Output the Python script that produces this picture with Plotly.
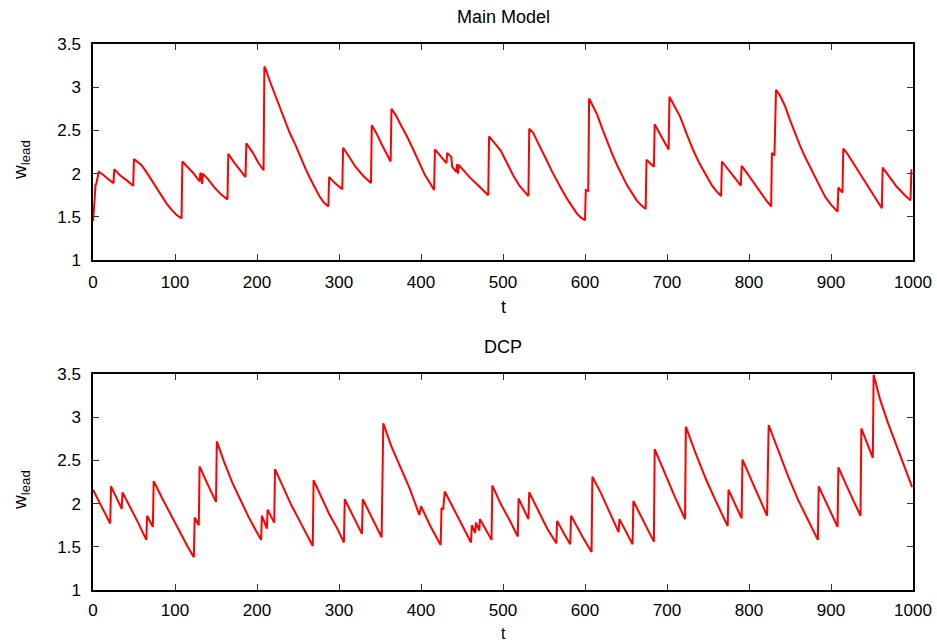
import plotly.graph_objects as go

# ---- Main Model (top panel) ----
t_main = [0, 1, 2, 3, 4, 7, 12, 18, 25, 26, 33, 40, 49, 50, 54, 59, 65, 71, 77, 84, 90, 96, 102, 108,
          109, 115, 122, 130, 131, 132, 133, 134, 140, 148, 156, 164, 165, 172, 180, 186, 187, 195, 202, 208,
          209, 211, 216, 222, 228, 234, 240, 247, 253, 259, 265, 271, 276, 281, 287, 288, 295, 304,
          305, 312, 320, 330, 339, 340, 346, 352, 358, 363, 364, 369, 376, 383, 391, 399, 405, 411, 416,
          417, 424, 431, 432, 437, 438, 441, 443, 444, 445, 446, 452, 460, 468, 476, 482,
          483, 490, 497, 505, 513, 520, 526, 531, 532, 537, 542, 548, 554, 560, 566, 572, 578, 584, 590, 595, 600,
          601, 604, 605, 609, 615, 621, 627, 633, 639, 645, 651, 657, 663, 669, 674, 675, 680, 684,
          685, 690, 696, 702, 703, 708, 716, 724, 732, 740, 748, 755, 760, 766, 767, 774, 782, 790,
          791, 798, 806, 814, 821, 827, 828, 831, 833, 838, 844, 850, 856, 862, 868, 874, 880, 887, 893, 900, 908,
          909, 914, 915, 920, 930, 940, 950, 957, 962, 963, 970, 980, 990, 997, 998, 999]
w_main = [1.45, 1.67, 1.70, 1.87, 1.88, 2.02, 1.99, 1.94, 1.89, 2.05, 1.98, 1.93, 1.86, 2.17, 2.14, 2.10, 2.02, 1.93, 1.83, 1.73, 1.65, 1.58, 1.52, 1.48,
          2.14, 2.08, 2.01, 1.91, 2.01, 1.99, 1.88, 2.00, 1.94, 1.84, 1.76, 1.70, 2.23, 2.13, 2.03, 1.96, 2.35, 2.24, 2.12, 2.04,
          3.24, 3.20, 3.06, 2.91, 2.75, 2.61, 2.47, 2.33, 2.19, 2.06, 1.94, 1.83, 1.74, 1.67, 1.62, 1.96, 1.89, 1.82,
          2.30, 2.20, 2.08, 1.97, 1.89, 2.56, 2.46, 2.34, 2.22, 2.14, 2.75, 2.68, 2.55, 2.43, 2.27, 2.10, 1.98, 1.89, 1.81,
          2.28, 2.20, 2.12, 2.24, 2.19, 2.08, 2.05, 2.02, 2.11, 2.00, 2.10, 2.03, 1.95, 1.88, 1.81, 1.75,
          2.43, 2.35, 2.27, 2.12, 1.97, 1.86, 1.79, 1.74, 2.52, 2.47, 2.37, 2.26, 2.14, 2.02, 1.91, 1.81, 1.71, 1.62, 1.54, 1.49, 1.46,
          1.81, 1.80, 2.87, 2.80, 2.68, 2.52, 2.37, 2.23, 2.10, 1.98, 1.87, 1.78, 1.69, 1.63, 1.59, 2.16, 2.11, 2.08,
          2.57, 2.49, 2.38, 2.28, 2.89, 2.80, 2.66, 2.46, 2.27, 2.11, 1.97, 1.86, 1.80, 1.74, 2.14, 2.06, 1.96, 1.86,
          2.09, 2.00, 1.89, 1.78, 1.69, 1.62, 2.24, 2.21, 2.97, 2.90, 2.78, 2.62, 2.47, 2.33, 2.20, 2.08, 1.96, 1.84, 1.73, 1.64, 1.56,
          1.84, 1.78, 2.29, 2.23, 2.08, 1.93, 1.78, 1.67, 1.60, 2.07, 1.98, 1.85, 1.75, 1.69, 2.04, 2.04]

# ---- DCP (bottom panel) ----
t_dcp = [0, 10, 21, 22, 28, 35, 36, 45, 55, 65, 66, 73, 74, 85, 95, 105, 115, 123, 124, 129, 130, 140, 150,
         151, 160, 170, 180, 190, 198, 205, 206, 212, 213, 221, 222, 232, 242, 252, 260, 268,
         269, 278, 288, 298, 306, 307, 317, 328, 329, 340, 352, 354, 364, 375, 386, 398, 400, 412, 424,
         425, 427, 429, 440, 451, 461, 462, 466, 467, 471, 472, 480, 486, 487, 497, 508, 518,
         519, 531, 532, 543, 554, 565, 566, 574, 582, 583, 590, 598, 608, 609, 619, 630, 641,
         642, 650, 658, 659, 670, 684, 685, 697, 710, 722, 723, 735, 748, 761, 774, 775, 783, 791,
         792, 802, 812, 822, 824, 836, 848, 860, 872, 884, 885, 897, 908, 909, 918, 927, 936,
         937, 944, 951, 952, 960, 970, 980, 990, 999]
w_dcp = [2.16, 1.97, 1.77, 2.20, 2.08, 1.94, 2.13, 1.97, 1.78, 1.58, 1.86, 1.73, 2.26, 2.05, 1.87, 1.68, 1.51, 1.38, 1.84, 1.75, 2.43, 2.22, 2.02,
         2.72, 2.48, 2.24, 2.03, 1.84, 1.70, 1.58, 1.86, 1.71, 1.93, 1.78, 2.40, 2.18, 1.98, 1.80, 1.65, 1.51,
         2.27, 2.08, 1.88, 1.71, 1.55, 2.05, 1.85, 1.65, 2.05, 1.83, 1.61, 2.93, 2.66, 2.42, 2.18, 1.87, 1.97, 1.73, 1.52,
         1.95, 1.93, 2.14, 1.94, 1.74, 1.55, 1.75, 1.66, 1.78, 1.69, 1.82, 1.69, 1.58, 2.21, 2.00, 1.81, 1.62,
         2.06, 1.82, 2.13, 1.91, 1.71, 1.54, 1.80, 1.66, 1.53, 1.86, 1.73, 1.60, 1.44, 2.31, 2.13, 1.91, 1.67,
         1.82, 1.67, 1.53, 2.03, 1.82, 1.56, 2.63, 2.36, 2.07, 1.82, 2.89, 2.58, 2.27, 2.00, 1.74, 2.16, 2.00, 1.83,
         2.51, 2.29, 2.07, 1.86, 2.91, 2.60, 2.31, 2.04, 1.80, 1.58, 2.20, 1.96, 1.73, 2.42, 2.22, 2.04, 1.86,
         2.87, 2.70, 2.53, 3.49, 3.20, 2.92, 2.66, 2.41, 2.19]

panel_titles = ["Main Model", "DCP"]
x_ticks = [0, 100, 200, 300, 400, 500, 600, 700, 800, 900, 1000]
y_ticks = [1, 1.5, 2, 2.5, 3, 3.5]

FONT = "Liberation Sans, Arial, sans-serif"

fig = go.Figure()
fig.add_trace(go.Scatter(x=t_main, y=w_main, mode="lines", line=dict(color="#ff0000", width=2),
                         xaxis="x", yaxis="y", showlegend=False, hoverinfo="skip"))
fig.add_trace(go.Scatter(x=t_dcp, y=w_dcp, mode="lines", line=dict(color="#ff0000", width=2),
                         xaxis="x2", yaxis="y2", showlegend=False, hoverinfo="skip"))

axis_common = dict(showline=True, linecolor="black", linewidth=1.5, mirror="allticks",
                   ticks="inside", ticklen=6, tickcolor="#333333", tickwidth=1.2,
                   showgrid=False, zeroline=False, automargin=False,
                   tickfont=dict(family=FONT, size=17, color="black"))

top_dom = [1 - 216 / 546, 1]
bot_dom = [0, 216 / 546]

fig.update_layout(
    width=937, height=643,
    margin=dict(l=93, r=24, t=44, b=53, autoexpand=False),
    plot_bgcolor="white", paper_bgcolor="white",
    font=dict(family=FONT, size=17, color="black"),
    xaxis=dict(domain=[0, 1], anchor="y", range=[0, 1000], tickvals=x_ticks, ticklabelstandoff=6, **axis_common),
    yaxis=dict(domain=top_dom, anchor="x", range=[1, 3.5], tickvals=y_ticks, ticklabelstandoff=7, **axis_common),
    xaxis2=dict(domain=[0, 1], anchor="y2", range=[0, 1000], tickvals=x_ticks, ticklabelstandoff=4, **axis_common),
    yaxis2=dict(domain=bot_dom, anchor="x2", range=[1, 3.5], tickvals=y_ticks, ticklabelstandoff=7, **axis_common),
)

def py(pix):
    return (590 - pix) / 546

def px(pix):
    return (pix - 93) / 820

ann = []
ann.append(dict(text=panel_titles[0], x=0.5, y=py(17), xref="paper", yref="paper", showarrow=False,
                xanchor="center", yanchor="middle", font=dict(family=FONT, size=18)))
ann.append(dict(text=panel_titles[1], x=0.5, y=py(347), xref="paper", yref="paper", showarrow=False,
                xanchor="center", yanchor="middle", font=dict(family=FONT, size=18)))
ann.append(dict(text="t", x=0.5, y=py(307), xref="paper", yref="paper", showarrow=False,
                xanchor="center", yanchor="middle", font=dict(family=FONT, size=18)))
ann.append(dict(text="t", x=0.5, y=py(633), xref="paper", yref="paper", showarrow=False,
                xanchor="center", yanchor="middle", font=dict(family=FONT, size=16)))
for yy in (160, 490):
    ann.append(dict(text="w<sub>lead</sub>", x=px(21), y=py(yy), xref="paper", yref="paper", showarrow=False,
                    xanchor="center", yanchor="middle", textangle=-90, font=dict(family=FONT, size=19)))
fig.update_layout(annotations=ann)

fig.write_html("out.html", config={"displayModeBar": False})
